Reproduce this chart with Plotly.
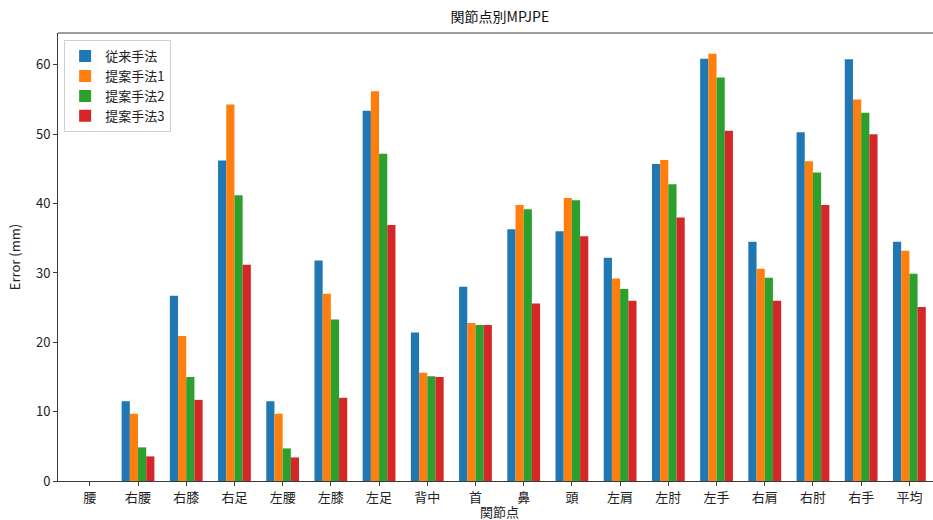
import plotly.graph_objects as go

joints = ["腰", "右腰", "右膝", "右足", "左腰", "左膝", "左足", "背中", "首", "鼻",
          "頭", "左肩", "左肘", "左手", "右肩", "右肘", "右手", "平均"]
conventional = [0.0, 11.5, 26.7, 46.2, 11.5, 31.8, 53.4, 21.4, 28.0, 36.3,
                36.0, 32.2, 45.7, 60.9, 34.5, 50.3, 60.8, 34.5]
proposed1 = [0.0, 9.7, 20.9, 54.3, 9.7, 27.0, 56.2, 15.6, 22.8, 39.8,
             40.8, 29.2, 46.3, 61.6, 30.6, 46.1, 55.0, 33.2]
proposed2 = [0.0, 4.85, 15.0, 41.2, 4.7, 23.3, 47.2, 15.1, 22.5, 39.2,
             40.5, 27.7, 42.8, 58.2, 29.3, 44.5, 53.1, 29.9]
proposed3 = [0.0, 3.55, 11.7, 31.2, 3.4, 12.0, 36.9, 15.0, 22.5, 25.6,
             35.3, 26.0, 38.0, 50.5, 26.0, 39.8, 50.0, 25.1]

series_names = ["従来手法", "提案手法1", "提案手法2", "提案手法3"]
series_values = [conventional, proposed1, proposed2, proposed3]
colors = ["#1f77b4", "#ff7f0e", "#2ca02c", "#d62728"]

FONT = "Noto Sans CJK JP, Noto Sans, DejaVu Sans, sans-serif"

x_idx = list(range(len(joints)))
fig = go.Figure()
for name, vals, c in zip(series_names, series_values, colors):
    fig.add_trace(go.Bar(x=x_idx, y=vals, name=name, marker=dict(color=c, line=dict(width=0))))

fig.update_layout(
    width=933, height=520,
    margin=dict(l=58, r=0, t=33, b=39),
    paper_bgcolor="white", plot_bgcolor="white",
    barmode="group", bargap=0.32, bargroupgap=0,
    font=dict(family=FONT, size=13, color="#222"),
    title=dict(text="関節点別MPJPE", x=0.505, xref="paper", xanchor="center",
               y=0.967, yref="container", yanchor="middle",
               font=dict(size=14, color="#111")),
    showlegend=True,
    legend=dict(x=0.007, y=0.984, xanchor="left", yanchor="top",
                bordercolor="#d0d0d0", borderwidth=1, bgcolor="rgba(255,255,255,0.9)",
                font=dict(size=13, color="#222"), tracegroupgap=0),
    xaxis=dict(range=[-0.66, 17.49], tickmode="array", tickvals=x_idx, ticktext=joints,
               showline=True, linecolor="#3a3a3a", linewidth=1, ticks="outside",
               ticklen=4, tickcolor="#3a3a3a", showgrid=False, zeroline=False,
               tickfont=dict(size=13)),
    yaxis=dict(range=[0, 64.6], tickvals=[0, 10, 20, 30, 40, 50, 60],
               showline=True, linecolor="#3a3a3a", linewidth=1, ticks="outside",
               ticklen=4, tickcolor="#3a3a3a", showgrid=False, zeroline=False,
               title=dict(text="Error (mm)", font=dict(size=13), standoff=12),
               tickfont=dict(size=13)),
    shapes=[dict(type="line", xref="paper", yref="paper", x0=0, x1=1, y0=1, y1=1,
                 line=dict(color="#3a3a3a", width=1))],
    annotations=[dict(text="関節点", xref="paper", yref="paper", x=0.505, y=0,
                      yshift=-30, xanchor="center", yanchor="middle", showarrow=False,
                      font=dict(size=13, color="#222"))],
)

fig.write_html("out.html",
               config={"displayModeBar": False},
               post_script="document.body.style.margin='0';document.body.style.overflow='hidden';")
